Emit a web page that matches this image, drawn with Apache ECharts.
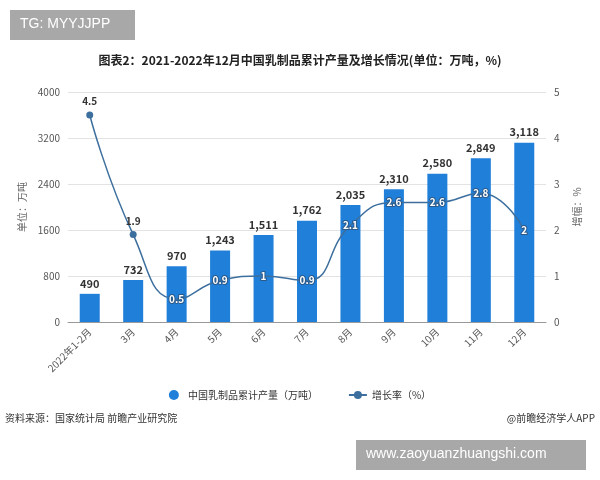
<!DOCTYPE html>
<html>
<head>
<meta charset="utf-8">
<script src="https://cdn.jsdelivr.net/npm/echarts@6/dist/echarts.min.js"></script>
<style>
  html, body { margin: 0; padding: 0; background: #fff; }
  #main { width: 600px; height: 480px; }
</style>
</head>
<body>
<div id="main"></div>
<script>
const categories = ['2022年1-2月', '3月', '4月', '5月', '6月', '7月', '8月', '9月', '10月', '11月', '12月'];
const output = [490, 732, 970, 1243, 1511, 1762, 2035, 2310, 2580, 2849, 3118];
const growth = [4.5, 1.9, 0.5, 0.9, 1, 0.9, 2.1, 2.6, 2.6, 2.8, 2];

const barColor = '#1f7fd9';
const lineColor = '#3d6f9e';
const font = '"Noto Sans CJK SC", sans-serif';

const chart = echarts.init(document.getElementById('main'));

// first two points: dark label above the dot, others: white label on the dot
const lineData = growth.map(function (v, i) {
  if (i < 2) {
    return {value: v, symbolSize: 7, label: {position: 'top', color: '#333', fontWeight: 'bold', textBorderWidth: 0}};
  }
  return {value: v, symbolSize: 1};
});

chart.setOption({
  animation: false,
  backgroundColor: '#fff',
  title: {
    text: '图表2：2021-2022年12月中国乳制品累计产量及增长情况(单位：万吨，%)',
    left: 'center',
    top: 49,
    textStyle: {fontSize: 12, fontWeight: 'bold', color: '#222', fontFamily: font}
  },
  legend: {
    bottom: 75,
    left: 'center',
    itemGap: 30,
    textStyle: {fontSize: 10, color: '#333', fontFamily: font},
    data: [
      {name: '中国乳制品累计产量（万吨）', icon: 'circle'},
      {name: '增长率（%）'}
    ],
    itemWidth: 18,
    itemHeight: 10
  },
  grid: {left: 68, right: 54, top: 92, bottom: 158},
  xAxis: {
    type: 'category',
    data: categories,
    axisLine: {lineStyle: {color: '#999'}},
    axisTick: {alignWithLabel: true, lineStyle: {color: '#999'}},
    axisLabel: {rotate: 45, color: '#555', fontSize: 10, fontFamily: font, margin: 8}
  },
  yAxis: [
    {
      type: 'value',
      min: 0,
      max: 4000,
      interval: 800,
      name: '单位：万吨',
      nameLocation: 'middle',
      nameGap: 40,
      nameTextStyle: {color: '#666', fontSize: 10, fontFamily: font},
      axisLine: {show: false},
      axisTick: {show: false},
      axisLabel: {color: '#555', fontSize: 10, fontFamily: font, formatter: function (v) { return String(v); }},
      splitLine: {lineStyle: {color: '#e3e3e3'}}
    },
    {
      type: 'value',
      min: 0,
      max: 5,
      interval: 1,
      name: '增幅：%',
      nameLocation: 'middle',
      nameGap: 26,
      nameRotate: 90,
      nameTextStyle: {color: '#666', fontSize: 10, fontFamily: font},
      axisLine: {show: false},
      axisTick: {show: false},
      axisLabel: {color: '#555', fontSize: 10, fontFamily: font},
      splitLine: {show: false}
    }
  ],
  series: [
    {
      name: '中国乳制品累计产量（万吨）',
      type: 'bar',
      data: output,
      barWidth: 20,
      itemStyle: {color: barColor},
      label: {
        show: true,
        position: 'top',
        color: '#333',
        fontSize: 11,
        fontWeight: 'bold',
        fontFamily: font,
        formatter: function (p) { return p.value.toLocaleString('en-US'); }
      }
    },
    {
      name: '增长率（%）',
      type: 'line',
      yAxisIndex: 1,
      data: lineData,
      smooth: true,
      symbol: 'circle',
      itemStyle: {color: lineColor},
      lineStyle: {color: lineColor, width: 1.5},
      label: {
        show: true,
        position: 'inside',
        color: '#fff',
        fontSize: 10,
        fontWeight: 'bold',
        fontFamily: font,
        textBorderColor: '#2b5a8a',
        textBorderWidth: 2
      }
    }
  ],
  graphic: [
    {
      type: 'rect',
      left: 10, top: 10,
      shape: {width: 125, height: 30},
      style: {fill: '#a8a8a8'}
    },
    {
      type: 'text',
      left: 20, top: 17,
      style: {text: 'TG: MYYJJPP', fill: '#fff', fontSize: 14, fontFamily: 'Liberation Sans, sans-serif'}
    },
    {
      type: 'text',
      left: 5, top: 413,
      style: {text: '资料来源：国家统计局 前瞻产业研究院', fill: '#333', fontSize: 10, fontFamily: font}
    },
    {
      type: 'text',
      right: 5, top: 413,
      style: {text: '@前瞻经济学人APP', fill: '#333', fontSize: 10, fontFamily: font}
    },
    {
      type: 'rect',
      left: 356, top: 440,
      shape: {width: 230, height: 30},
      style: {fill: '#a8a8a8'}
    },
    {
      type: 'text',
      left: 366, top: 447,
      style: {text: 'www.zaoyuanzhuangshi.com', fill: '#fff', fontSize: 14, fontFamily: 'Liberation Sans, sans-serif'}
    }
  ]
});
</script>
</body>
</html>
